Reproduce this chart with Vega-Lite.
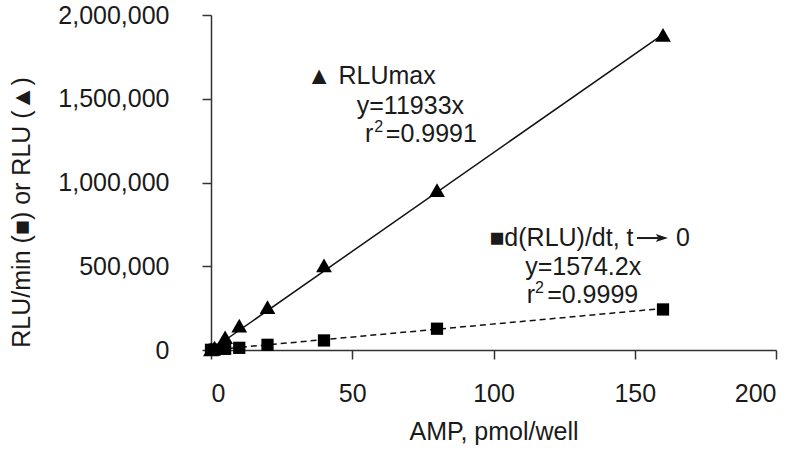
{
  "$schema": "https://vega.github.io/schema/vega-lite/v6.json",
  "width": 565,
  "height": 335,
  "autosize": {"type": "none"},
  "padding": {"left": 211, "top": 15, "right": 24, "bottom": 106},
  "background": "white",
  "config": {
    "view": {"stroke": null},
    "font": "Liberation Sans",
    "axis": {
      "grid": false,
      "domainColor": "#333333",
      "domainWidth": 1.5,
      "tickColor": "#333333",
      "tickWidth": 1.5,
      "tickSize": 9,
      "labelFont": "Liberation Sans",
      "labelFontSize": 25,
      "labelColor": "#1a1a1a",
      "titleFont": "Liberation Sans",
      "titleFontSize": 25,
      "titleFontWeight": "normal",
      "titleColor": "#1a1a1a"
    }
  },
  "datasets": {
    "points": [
      {"series": "RLUmax", "amp": 0, "rlu": 4000},
      {"series": "RLUmax", "amp": 1.25, "rlu": 15000},
      {"series": "RLUmax", "amp": 5, "rlu": 76000},
      {"series": "RLUmax", "amp": 10, "rlu": 146000},
      {"series": "RLUmax", "amp": 20, "rlu": 256000},
      {"series": "RLUmax", "amp": 40, "rlu": 505000},
      {"series": "RLUmax", "amp": 80, "rlu": 954000},
      {"series": "RLUmax", "amp": 160, "rlu": 1881000},
      {"series": "dRLU/dt", "amp": 0, "rlu": 1000},
      {"series": "dRLU/dt", "amp": 1.25, "rlu": 2000},
      {"series": "dRLU/dt", "amp": 5, "rlu": 7000},
      {"series": "dRLU/dt", "amp": 10, "rlu": 13000},
      {"series": "dRLU/dt", "amp": 20, "rlu": 31000},
      {"series": "dRLU/dt", "amp": 40, "rlu": 57000},
      {"series": "dRLU/dt", "amp": 80, "rlu": 127000},
      {"series": "dRLU/dt", "amp": 160, "rlu": 242000}
    ],
    "fits": [
      {"series": "RLUmax", "amp": 0, "rlu": 0},
      {"series": "RLUmax", "amp": 160, "rlu": 1885000},
      {"series": "dRLU/dt", "amp": 0, "rlu": 0},
      {"series": "dRLU/dt", "amp": 160, "rlu": 248000}
    ],
    "labels": [
      {"role": "main", "amp": 33.9, "rlu": 1586200, "text": "▲ RLUmax"},
      {"role": "main", "amp": 51.6, "rlu": 1407100, "text": "y=11933x"},
      {"role": "main", "amp": 54.5, "rlu": 1243600, "text": "r"},
      {"role": "sup", "amp": 57.8, "rlu": 1301500, "text": "2"},
      {"role": "main", "amp": 61.9, "rlu": 1243600, "text": "=0.9991"},
      {"role": "main", "amp": 98.5, "rlu": 620900, "text": "■d(RLU)/dt, t"},
      {"role": "main", "amp": 164.6, "rlu": 620900, "text": "0"},
      {"role": "main", "amp": 111.2, "rlu": 447750, "text": "y=1574.2x"},
      {"role": "main", "amp": 111.8, "rlu": 278800, "text": "r"},
      {"role": "sup", "amp": 114.7, "rlu": 339100, "text": "2"},
      {"role": "main", "amp": 119.0, "rlu": 278800, "text": "=0.9999"}
    ],
    "arrow": [
      {"amp": 150.8, "amp2": 158.4, "rlu": 668400, "head": 159.6}
    ]
  },
  "encoding": {
    "x": {
      "field": "amp",
      "type": "quantitative",
      "scale": {"domain": [0, 200], "nice": false, "zero": false},
      "axis": {
        "values": [0, 50, 100, 150, 200],
        "title": "AMP, pmol/well",
        "labelPadding": 22,
        "titlePadding": 13
      }
    },
    "y": {
      "field": "rlu",
      "type": "quantitative",
      "scale": {"domain": [0, 2000000], "nice": false, "zero": false},
      "axis": {
        "values": [0, 500000, 1000000, 1500000, 2000000],
        "format": ",d",
        "title": "RLU/min (■) or RLU (▲)",
        "labelPadding": 33,
        "titleAngle": -90,
        "titleX": -190,
        "titleY": 197,
        "titleAlign": "center",
        "titleBaseline": "middle"
      }
    }
  },
  "layer": [
    {
      "data": {"name": "fits"},
      "transform": [{"filter": "datum.series === 'RLUmax'"}],
      "mark": {"type": "line", "color": "#111111", "strokeWidth": 1.5}
    },
    {
      "data": {"name": "fits"},
      "transform": [{"filter": "datum.series === 'dRLU/dt'"}],
      "mark": {"type": "line", "color": "#111111", "strokeWidth": 1.5, "strokeDash": [6, 4]}
    },
    {
      "data": {"name": "points"},
      "transform": [{"filter": "datum.series === 'RLUmax'"}],
      "mark": {"type": "point", "shape": "triangle-up", "filled": true, "color": "#000000", "size": 250, "opacity": 1}
    },
    {
      "data": {"name": "points"},
      "transform": [{"filter": "datum.series === 'dRLU/dt'"}],
      "mark": {"type": "point", "shape": "square", "filled": true, "color": "#000000", "size": 150, "opacity": 1}
    },
    {
      "data": {"name": "labels"},
      "transform": [{"filter": "datum.role === 'main'"}],
      "mark": {"type": "text", "align": "left", "baseline": "alphabetic", "fontSize": 25, "color": "#1a1a1a", "font": "Liberation Sans"},
      "encoding": {"text": {"field": "text"}}
    },
    {
      "data": {"name": "labels"},
      "transform": [{"filter": "datum.role === 'sup'"}],
      "mark": {"type": "text", "align": "left", "baseline": "alphabetic", "fontSize": 16, "color": "#1a1a1a", "font": "Liberation Sans"},
      "encoding": {"text": {"field": "text"}}
    },
    {
      "data": {"name": "arrow"},
      "mark": {"type": "rule", "color": "#1a1a1a", "strokeWidth": 2},
      "encoding": {"x2": {"field": "amp2"}}
    },
    {
      "data": {"name": "arrow"},
      "mark": {"type": "point", "shape": "M-1,-0.65L1,0L-1,0.65L-0.55,0Z", "filled": true, "color": "#1a1a1a", "size": 150, "opacity": 1},
      "encoding": {"x": {"field": "head", "type": "quantitative"}}
    }
  ]
}
